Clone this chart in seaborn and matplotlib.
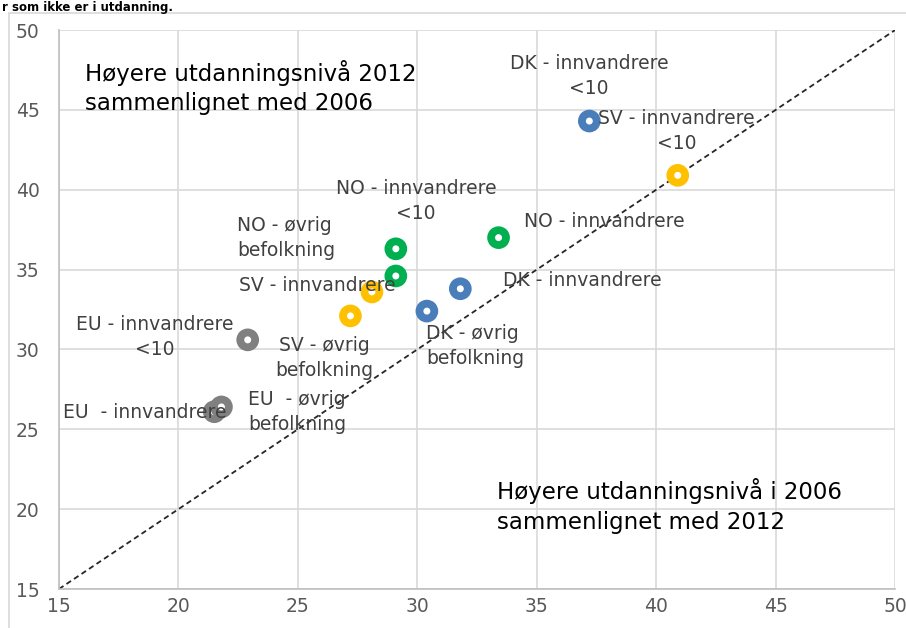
import matplotlib
matplotlib.use("Agg")
import matplotlib.pyplot as plt
import matplotlib.patches as mpatches
import seaborn as sns
import pandas as pd

# values (x = 2006, y = 2012)
labels = ["DK - innvandrere\n<10", "SV - innvandrere\n<10", "NO - innvandrere",
          "NO - innvandrere\n<10", "NO - øvrig\nbefolkning", "DK - innvandrere",
          "DK - øvrig\nbefolkning", "SV - innvandrere", "SV - øvrig\nbefolkning",
          "EU - innvandrere\n<10", "EU  - innvandrere", "EU  - øvrig\nbefolkning"]
group = ["DK", "SV", "NO", "NO", "NO", "DK", "DK", "SV", "SV", "EU", "EU", "EU"]
x2006 = [37.2, 40.9, 33.4, 29.1, 29.1, 31.8, 30.4, 28.1, 27.2, 22.9, 21.5, 21.8]
y2012 = [44.3, 40.9, 37.0, 36.3, 34.6, 33.8, 32.4, 33.6, 32.1, 30.6, 26.1, 26.4]

colors = {"DK": "#4A7EBB", "SV": "#FFC000", "NO": "#00B050", "EU": "#808080"}

# label placement (data coords) and alignment
label_pos = [(37.18, 47.1, "center"), (40.86, 43.7, "center"), (34.46, 38.0, "left"),
             (29.94, 39.3, "center"), (22.45, 37.0, "left"), (33.58, 34.3, "left"),
             (30.36, 30.2, "left"), (22.53, 34.0, "left"), (26.09, 29.44, "center"),
             (19.02, 30.8, "center"), (15.17, 26.06, "left"), (24.96, 26.06, "center")]

df = pd.DataFrame({"label": labels, "gruppe": group, "x": x2006, "y": y2012})

sns.set_style("white")
plt.rcParams["font.family"] = ["DejaVu Sans"]

fig = plt.figure(figsize=(9.06, 6.28), dpi=100)
ax = fig.add_axes([0.0651, 0.0621, 0.9229, 0.8901])

# diagonal reference line
ax.plot([15, 50], [15, 50], ls="--", color="#262626", lw=1.3, dashes=(3, 2), zorder=2)

sns.scatterplot(data=df, x="x", y="y", hue="gruppe", palette=colors, ax=ax,
                s=115, marker="o", facecolor="white", linewidth=5.6,
                legend=False, zorder=3)
# ring markers: edge in group colour, white centre
for coll in ax.collections:
    coll.set_edgecolors([colors[g] for g in df["gruppe"]])
    coll.set_facecolors("white")

for lab, (tx, ty, ha) in zip(labels, label_pos):
    ax.text(tx, ty, lab, ha=ha, va="center", fontsize=13.5, color="#404040",
            linespacing=1.4, zorder=4)

ax.text(16.09, 46.4, "Høyere utdanningsnivå 2012\nsammenlignet med 2006",
        ha="left", va="center", fontsize=16.5, color="#000000", linespacing=1.35)
ax.text(33.33, 20.2, "Høyere utdanningsnivå i 2006\nsammenlignet med 2012",
        ha="left", va="center", fontsize=16.5, color="#000000", linespacing=1.35)

ax.set_xlim(15, 50)
ax.set_ylim(15, 50)
ax.set_xticks(range(15, 51, 5))
ax.set_yticks(range(15, 51, 5))
ax.grid(True, color="#D9D9D9", lw=1.2)
ax.set_axisbelow(True)
ax.set_xlabel("")
ax.set_ylabel("")
ax.tick_params(axis="both", length=0, labelsize=13.5, labelcolor="#595959")
ax.tick_params(axis="y", pad=14)
ax.tick_params(axis="x", pad=6)
for side in ["top", "right"]:
    ax.spines[side].set_visible(False)
for side in ["left", "bottom"]:
    ax.spines[side].set_color("#BFBFBF")
    ax.spines[side].set_linewidth(1.2)

# chart area border and the title line above it
fig.patches.append(mpatches.Rectangle((9 / 906, -0.01), 1.0, 1 - 13 / 628 + 0.01,
                                      transform=fig.transFigure, fill=False,
                                      edgecolor="#D9D9D9", lw=1.2))
fig.text(0.002, 0.999, "r som ikke er i utdanning.", ha="left", va="top",
         fontsize=8.5, fontweight="bold", color="#000000")

fig.savefig("out.png", dpi=100)
